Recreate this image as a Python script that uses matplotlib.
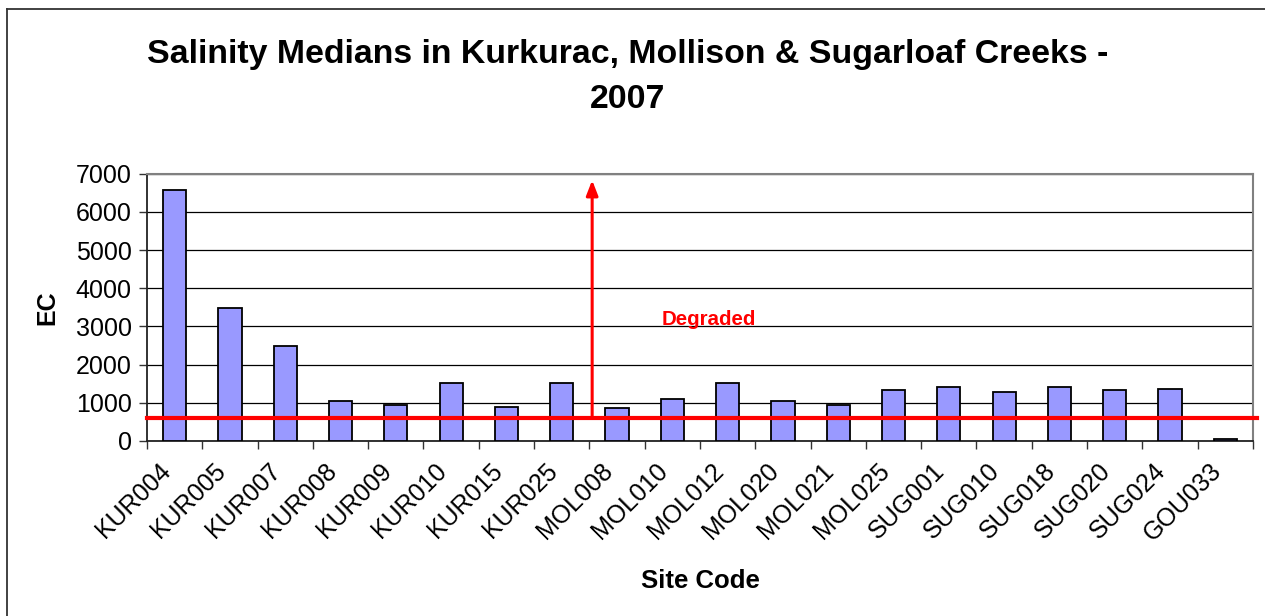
import numpy as np
import matplotlib
matplotlib.use("Agg")
import matplotlib.pyplot as plt
import matplotlib.transforms as mtransforms
from matplotlib.lines import Line2D

plt.rcParams['font.family'] = ['Liberation Sans', 'DejaVu Sans']

# data
sites = ["KUR004", "KUR005", "KUR007", "KUR008", "KUR009", "KUR010", "KUR015",
         "KUR025", "MOL008", "MOL010", "MOL012", "MOL020", "MOL021", "MOL025",
         "SUG001", "SUG010", "SUG018", "SUG020", "SUG024", "GOU033"]
ec_median = [6570, 3480, 2500, 1050, 930, 1510, 900, 1510, 855, 1090,
             1510, 1050, 930, 1330, 1410, 1280, 1410, 1330, 1370, 60]
threshold = 590
arrow_top = 6830
y_ticks = [0, 1000, 2000, 3000, 4000, 5000, 6000, 7000]

fig = plt.figure(figsize=(12.65, 6.16), dpi=100)
ax = fig.add_axes([0.1162, 0.2841, 0.8743, 0.4339])

x = np.arange(len(sites))
ax.bar(x, ec_median, width=0.42, color="#9999ff", edgecolor="black",
       linewidth=1.3, zorder=3)

ax.set_xlim(-0.5, len(sites) - 0.5)
ax.set_ylim(0, 7000)
ax.set_yticks(y_ticks)
ax.set_yticklabels([str(v) for v in y_ticks], fontsize=18)
ax.yaxis.grid(True, color="black", linewidth=0.9, zorder=0)
ax.set_axisbelow(True)

# category ticks between bars, labels at bar centres
ax.set_xticks(np.arange(len(sites) + 1) - 0.5)
ax.set_xticklabels([])
ax.set_xticks(x, minor=True)
ax.set_xticklabels(sites, minor=True, rotation=45, ha="right", va="center",
                   rotation_mode="anchor", fontsize=18)
ax.tick_params(axis="x", which="minor", length=0, pad=19)
ax.tick_params(axis="x", which="major", length=6, width=1, color="#333333", direction="out")
ax.tick_params(axis="y", length=6, width=1, color="#333333", direction="out", pad=5)
shift = mtransforms.ScaledTranslation(-0.08, 0, fig.dpi_scale_trans)
for lbl in ax.get_xticklabels(minor=True):
    lbl.set_transform(lbl.get_transform() + shift)

for s in ["top", "right"]:
    ax.spines[s].set_color("#808080")
    ax.spines[s].set_linewidth(1.5)
for s in ["left", "bottom"]:
    ax.spines[s].set_color("#222222")
    ax.spines[s].set_linewidth(1.3)

# degraded threshold and arrow
ax.axhline(threshold, xmin=0, xmax=1.004, color="#ff0000", linewidth=3, zorder=5, clip_on=False)
ax.annotate("", xy=(7.55, arrow_top), xytext=(7.55, threshold),
            arrowprops=dict(arrowstyle="-|>,head_length=0.9,head_width=0.35",
                            color="#ff0000", lw=2.2, shrinkA=0, shrinkB=0),
            zorder=6)
ax.text(8.81, 3190, "Degraded", color="#ff0000", fontsize=14.8, fontweight="bold",
        ha="left", va="center", zorder=6)

ax.set_ylabel("EC", fontsize=18, fontweight="bold", labelpad=12)
ax.set_xlabel("Site Code", fontsize=18.5, fontweight="bold", labelpad=17)

fig.text(0.496, 1 - 77 / 616, "Salinity Medians in Kurkurac, Mollison & Sugarloaf Creeks -\n2007",
         ha="center", va="center", fontsize=24.4, fontweight="bold", linespacing=1.58)

# outer frame (top and left visible)
fig.add_artist(Line2D([6.5 / 1265, 1.0], [1 - 8.5 / 616, 1 - 8.5 / 616],
                      transform=fig.transFigure, color="#333333", linewidth=1.3))
fig.add_artist(Line2D([6.5 / 1265, 6.5 / 1265], [0, 1 - 8.5 / 616],
                      transform=fig.transFigure, color="#333333", linewidth=1.3))

fig.savefig("out.png", dpi=100, facecolor="white")
